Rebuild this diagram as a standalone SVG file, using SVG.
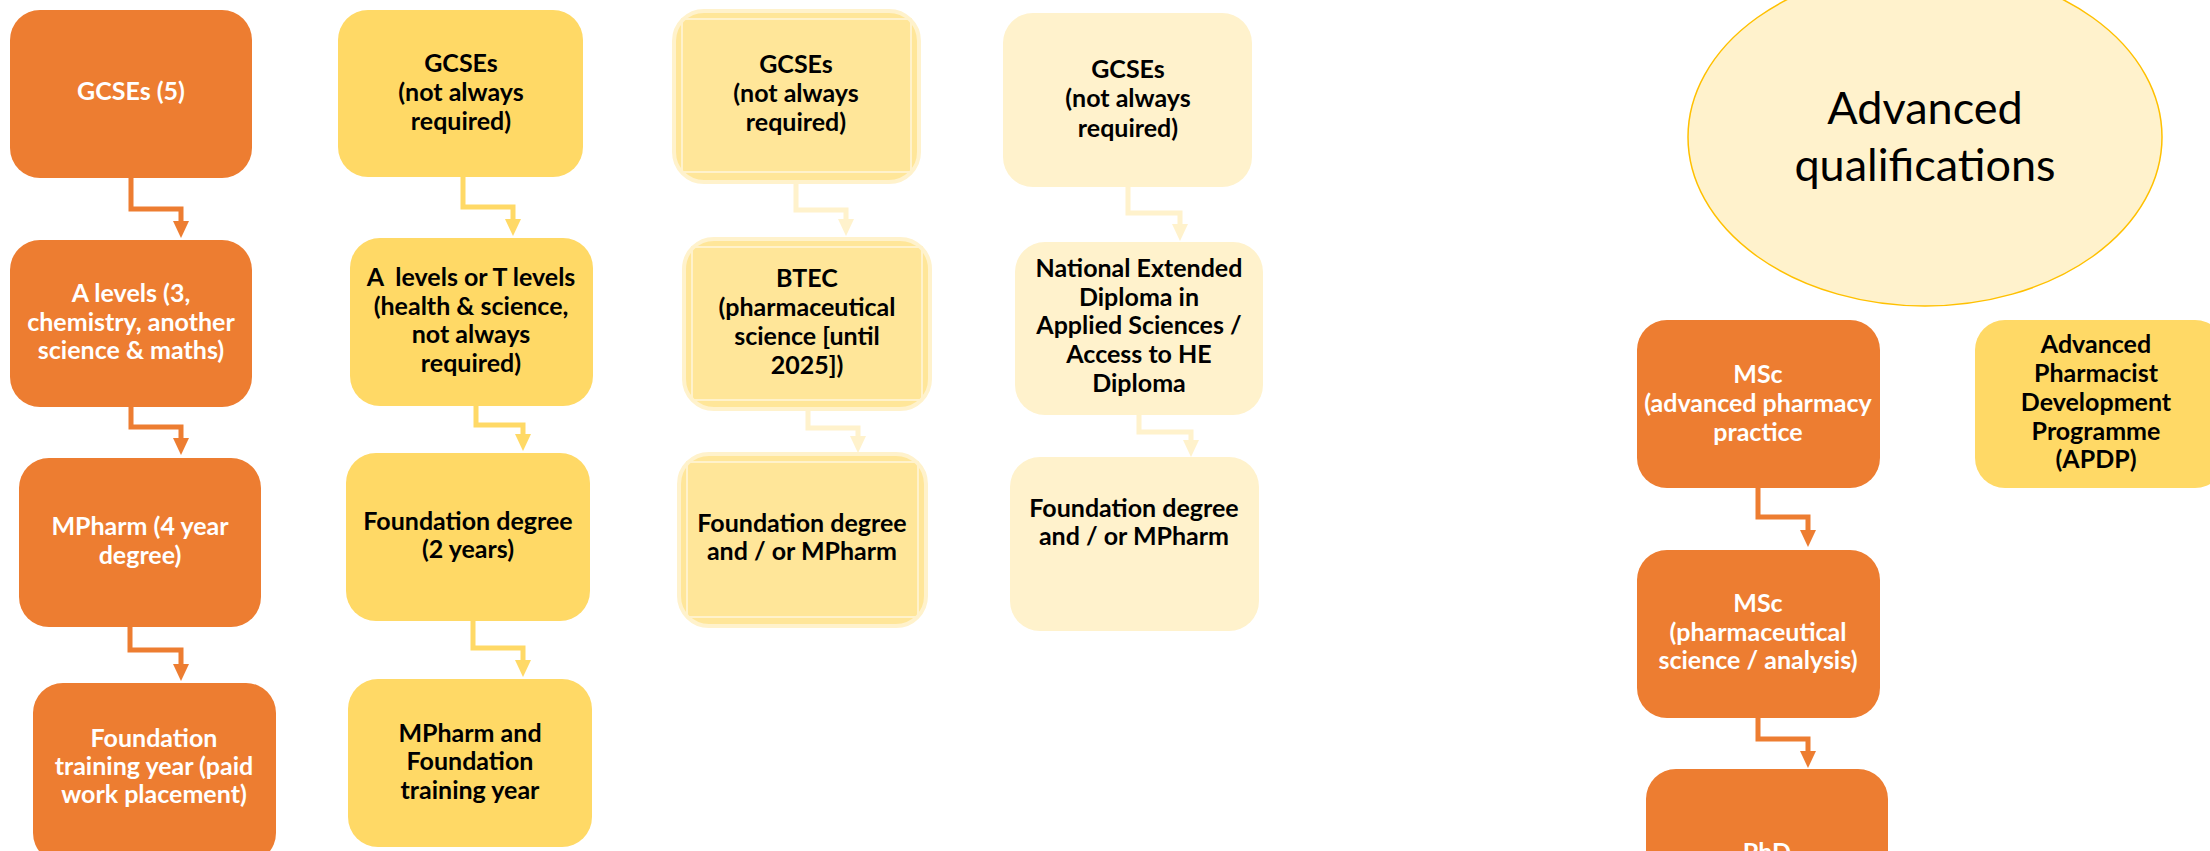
<svg xmlns="http://www.w3.org/2000/svg" width="2210" height="851" viewBox="0 0 2210 851">
<style>
.t{font-family:Lato,"Liberation Sans",sans-serif;font-weight:bold;font-size:25px;text-anchor:middle}
.w{fill:#FFFFFF}
.k{fill:#000000}
.or{fill:#ED7D31}
.ye{fill:#FFD966}
.y3{fill:#FFE699;stroke:#FFF2CC;stroke-width:4}
.in{fill:none;stroke:#FFF2CC;stroke-width:2}
.lt{fill:#FFF2CC}
.c{fill:none;stroke-width:5}
.co{stroke:#ED7D31}
.cy{stroke:#FFD966}
.cl{stroke:#FFF2CC}
</style>
<defs>
<marker id="ao" markerUnits="userSpaceOnUse" markerWidth="17" markerHeight="16" viewBox="0 0 17 16" refX="1" refY="8" orient="auto"><path d="M0,0 L17,8 L0,16 z" fill="#ED7D31"/></marker>
<marker id="ay" markerUnits="userSpaceOnUse" markerWidth="17" markerHeight="16" viewBox="0 0 17 16" refX="1" refY="8" orient="auto"><path d="M0,0 L17,8 L0,16 z" fill="#FFD966"/></marker>
<marker id="al" markerUnits="userSpaceOnUse" markerWidth="17" markerHeight="16" viewBox="0 0 17 16" refX="1" refY="8" orient="auto"><path d="M0,0 L17,8 L0,16 z" fill="#FFF2CC"/></marker>
</defs>
<rect width="2210" height="851" fill="#FFFFFF"/>
<g id="connectors">
<path class="c co" d="M131,178 V209 H181 V222" marker-end="url(#ao)"/>
<path class="c co" d="M131,407 V427 H181 V439" marker-end="url(#ao)"/>
<path class="c co" d="M130,627 V650 H181 V665" marker-end="url(#ao)"/>
<path class="c cy" d="M463,177 V207 H513 V220" marker-end="url(#ay)"/>
<path class="c cy" d="M476,406 V425 H523 V435" marker-end="url(#ay)"/>
<path class="c cy" d="M473,621 V648 H523 V661" marker-end="url(#ay)"/>
<path class="c cl" d="M796,184 V210 H846 V220" marker-end="url(#al)"/>
<path class="c cl" d="M808,411 V428 H858 V437" marker-end="url(#al)"/>
<path class="c cl" d="M1128,187 V213 H1180 V225" marker-end="url(#al)"/>
<path class="c cl" d="M1139,415 V432 H1191 V441" marker-end="url(#al)"/>
<path class="c co" d="M1758,488 V517 H1808 V531" marker-end="url(#ao)"/>
<path class="c co" d="M1758,718 V739 H1808 V752" marker-end="url(#ao)"/>
</g>
<g id="n-gcse5">
<rect class="or" x="10" y="10" width="242" height="168" rx="30"/>
<text class="t w" x="131" y="100">GCSEs (5)</text>
</g>
<g id="n-alevels">
<rect class="or" x="10" y="240" width="242" height="167" rx="30"/>
<text class="t w" x="131" y="302">A levels (3,</text>
<text class="t w" x="131" y="331">chemistry, another</text>
<text class="t w" x="131" y="359">science &amp; maths)</text>
</g>
<g id="n-mpharm">
<rect class="or" x="19" y="458" width="242" height="169" rx="30"/>
<text class="t w" x="140" y="535">MPharm (4 year</text>
<text class="t w" x="140" y="564">degree)</text>
</g>
<g id="n-foundation-year">
<rect class="or" x="33" y="683" width="243" height="180" rx="30"/>
<text class="t w" x="154" y="747">Foundation</text>
<text class="t w" x="154" y="775">training year (paid</text>
<text class="t w" x="154" y="803">work placement)</text>
</g>
<g id="n-gcse-y">
<rect class="ye" x="338" y="10" width="245" height="167" rx="30"/>
<text class="t k" x="461" y="72">GCSEs</text>
<text class="t k" x="461" y="101">(not always</text>
<text class="t k" x="461" y="130">required)</text>
</g>
<g id="n-alevels-t">
<rect class="ye" x="350" y="238" width="243" height="168" rx="30"/>
<text class="t k" x="471" y="286" xml:space="preserve" style="white-space:pre">A  levels or T levels</text>
<text class="t k" x="471" y="315">(health &amp; science,</text>
<text class="t k" x="471" y="343">not always</text>
<text class="t k" x="471" y="372">required)</text>
</g>
<g id="n-fd-2years">
<rect class="ye" x="346" y="453" width="244" height="168" rx="30"/>
<text class="t k" x="468" y="530">Foundation degree</text>
<text class="t k" x="468" y="558">(2 years)</text>
</g>
<g id="n-mpharm-fty">
<rect class="ye" x="348" y="679" width="244" height="168" rx="30"/>
<text class="t k" x="470" y="742">MPharm and</text>
<text class="t k" x="470" y="770">Foundation</text>
<text class="t k" x="470" y="799">training year</text>
</g>
<g id="n-gcse-3">
<rect class="y3" x="674" y="11" width="245" height="171" rx="30"/>
<rect class="in" x="682" y="19" width="229" height="153"/>
<text class="t k" x="796" y="73">GCSEs</text>
<text class="t k" x="796" y="102">(not always</text>
<text class="t k" x="796" y="131">required)</text>
</g>
<g id="n-btec">
<rect class="y3" x="684" y="239" width="246" height="170" rx="30"/>
<rect class="in" x="692" y="247" width="230" height="153"/>
<text class="t k" x="807" y="287">BTEC</text>
<text class="t k" x="807" y="316">(pharmaceutical</text>
<text class="t k" x="807" y="345">science [until</text>
<text class="t k" x="807" y="374">2025])</text>
</g>
<g id="n-fd-mpharm-3">
<rect class="y3" x="679" y="454" width="247" height="172" rx="30"/>
<rect class="in" x="687" y="462" width="231" height="155"/>
<text class="t k" x="802" y="532">Foundation degree</text>
<text class="t k" x="802" y="560">and / or MPharm</text>
</g>
<g id="n-gcse-4">
<rect class="lt" x="1003" y="13" width="249" height="174" rx="30"/>
<text class="t k" x="1128" y="78">GCSEs</text>
<text class="t k" x="1128" y="107">(not always</text>
<text class="t k" x="1128" y="137">required)</text>
</g>
<g id="n-ned">
<rect class="lt" x="1015" y="242" width="248" height="173" rx="30"/>
<text class="t k" x="1139" y="277">National Extended</text>
<text class="t k" x="1139" y="306">Diploma in</text>
<text class="t k" x="1139" y="334">Applied Sciences /</text>
<text class="t k" x="1139" y="363">Access to HE</text>
<text class="t k" x="1139" y="392">Diploma</text>
</g>
<g id="n-fd-mpharm-4">
<rect class="lt" x="1010" y="457" width="249" height="174" rx="30"/>
<text class="t k" x="1134" y="517">Foundation degree</text>
<text class="t k" x="1134" y="545">and / or MPharm</text>
</g>
<g id="n-advanced">
<ellipse cx="1925" cy="137" rx="237" ry="169" fill="#FFF2CC" stroke="#FFC000" stroke-width="1.5"/>
<text x="1925" y="124" font-family="Lato,'Liberation Sans',sans-serif" font-size="45" text-anchor="middle" fill="#000000">Advanced</text>
<text x="1925" y="181" font-family="Lato,'Liberation Sans',sans-serif" font-size="45" text-anchor="middle" fill="#000000">qualifications</text>
</g>
<g id="n-msc-app">
<rect class="or" x="1637" y="320" width="243" height="168" rx="30"/>
<text class="t w" x="1758" y="383">MSc</text>
<text class="t w" x="1758" y="412">(advanced pharmacy</text>
<text class="t w" x="1758" y="441">practice</text>
</g>
<g id="n-apdp">
<rect class="ye" x="1975" y="320" width="250" height="168" rx="30"/>
<text class="t k" x="2096" y="353">Advanced</text>
<text class="t k" x="2096" y="382">Pharmacist</text>
<text class="t k" x="2096" y="411">Development</text>
<text class="t k" x="2096" y="440">Programme</text>
<text class="t k" x="2096" y="468">(APDP)</text>
</g>
<g id="n-msc-psa">
<rect class="or" x="1637" y="550" width="243" height="168" rx="30"/>
<text class="t w" x="1758" y="612">MSc</text>
<text class="t w" x="1758" y="641">(pharmaceutical</text>
<text class="t w" x="1758" y="669">science / analysis)</text>
</g>
<g id="n-phd">
<rect class="or" x="1646" y="769" width="242" height="168" rx="30"/>
<text class="t w" x="1767" y="861">PhD</text>
</g>
</svg>
